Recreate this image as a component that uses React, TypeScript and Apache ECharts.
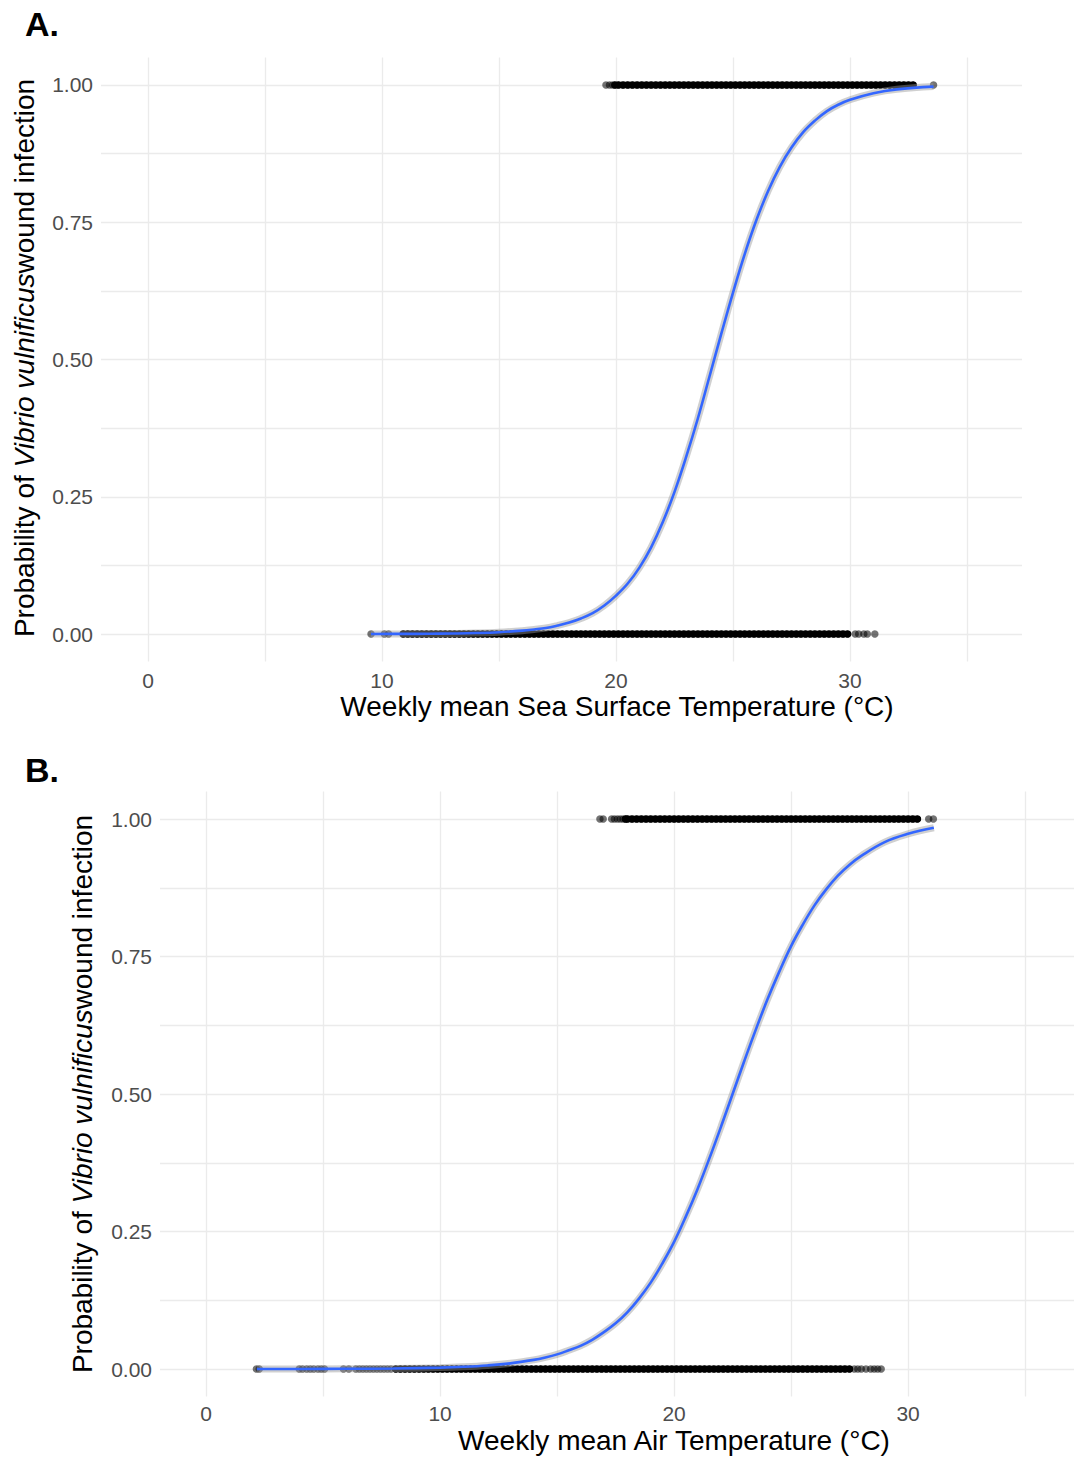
import React, { useEffect, useRef } from "react";
import * as echarts from "echarts";

// ---------- Panel A: sea surface temperature ----------
const sstSparse0 = [9.53, 10.1, 10.28, 30.22, 30.37, 30.59, 30.74, 31.06];
const sstDense0 = [10.9,11.1,11.3,11.5,11.7,11.9,12.1,12.3,12.5,12.7,12.9,13.1,13.3,13.5,13.7,13.9,14.1,14.3,14.5,14.7,14.9,15.1,15.3,15.5,15.7,15.9,16.1,16.3,16.5,16.7,16.9,17.1,17.3,17.5,17.7,17.9,18.1,18.3,18.5,18.7,18.9,19.1,19.3,19.5,19.7,19.9,20.1,20.3,20.5,20.7,20.9,21.1,21.3,21.5,21.7,21.9,22.1,22.3,22.5,22.7,22.9,23.1,23.3,23.5,23.7,23.9,24.1,24.3,24.5,24.7,24.9,25.1,25.3,25.5,25.7,25.9,26.1,26.3,26.5,26.7,26.9,27.1,27.3,27.5,27.7,27.9,28.1,28.3,28.5,28.7,28.9,29.1,29.3,29.5,29.7,29.9];
const sstSparse1 = [19.57, 19.72, 19.85, 33.57];
const sstDense1 = [19.95,20.1,20.3,20.5,20.7,20.9,21.1,21.3,21.5,21.7,21.9,22.1,22.3,22.5,22.7,22.9,23.1,23.3,23.5,23.7,23.9,24.1,24.3,24.5,24.7,24.9,25.1,25.3,25.5,25.7,25.9,26.1,26.3,26.5,26.7,26.9,27.1,27.3,27.5,27.7,27.9,28.1,28.3,28.5,28.7,28.9,29.1,29.3,29.5,29.7,29.9,30.1,30.3,30.5,30.7,30.9,31.1,31.3,31.5,31.7,31.9,32.1,32.3,32.5,32.7];
const sstCurveX = [9.53, 11, 12, 13, 14, 15, 16, 16.5, 17, 17.5, 18, 18.5, 19, 19.5, 20, 20.5, 21, 21.5, 22, 22.5, 23, 23.5, 24, 24.5, 25, 25.5, 26, 26.5, 27, 27.5, 28, 28.5, 29, 29.5, 30, 31, 32, 33.57];
const sstCurveP = [0.0001, 0.0003, 0.0005, 0.001, 0.0018, 0.0033, 0.0062, 0.0084, 0.011, 0.0155, 0.021, 0.0284, 0.038, 0.052, 0.07, 0.092, 0.121, 0.158, 0.204, 0.259, 0.323, 0.393, 0.47, 0.547, 0.622, 0.692, 0.754, 0.807, 0.851, 0.886, 0.914, 0.935, 0.952, 0.964, 0.973, 0.985, 0.992, 0.997];

// ---------- Panel B: air temperature ----------
const airSparse0 = [2.15, 2.27, 3.98, 4.12, 4.3, 4.45, 4.6, 4.78, 4.92, 5.06, 5.87, 6.1, 6.4, 6.55, 6.7, 6.85, 7.0, 7.15, 7.3, 7.45, 7.6, 7.75, 7.9, 27.7, 27.85, 28.0, 28.2, 28.4, 28.55, 28.7, 28.85];
const airDense0 = [8.1,8.3,8.5,8.7,8.9,9.1,9.3,9.5,9.7,9.9,10.1,10.3,10.5,10.7,10.9,11.1,11.3,11.5,11.7,11.9,12.1,12.3,12.5,12.7,12.9,13.1,13.3,13.5,13.7,13.9,14.1,14.3,14.5,14.7,14.9,15.1,15.3,15.5,15.7,15.9,16.1,16.3,16.5,16.7,16.9,17.1,17.3,17.5,17.7,17.9,18.1,18.3,18.5,18.7,18.9,19.1,19.3,19.5,19.7,19.9,20.1,20.3,20.5,20.7,20.9,21.1,21.3,21.5,21.7,21.9,22.1,22.3,22.5,22.7,22.9,23.1,23.3,23.5,23.7,23.9,24.1,24.3,24.5,24.7,24.9,25.1,25.3,25.5,25.7,25.9,26.1,26.3,26.5,26.7,26.9,27.1,27.3,27.5];
const airSparse1 = [16.83, 16.97, 17.33, 17.45, 17.58, 17.7, 17.82, 30.88, 31.08];
const airDense1 = [17.92,18.0,18.2,18.4,18.6,18.8,19.0,19.2,19.4,19.6,19.8,20.0,20.2,20.4,20.6,20.8,21.0,21.2,21.4,21.6,21.8,22.0,22.2,22.4,22.6,22.8,23.0,23.2,23.4,23.6,23.8,24.0,24.2,24.4,24.6,24.8,25.0,25.2,25.4,25.6,25.8,26.0,26.2,26.4,26.6,26.8,27.0,27.2,27.4,27.6,27.8,28.0,28.2,28.4,28.6,28.8,29.0,29.2,29.4,29.6,29.8,30.0,30.2,30.4];
const airCurveX = [2.17, 4, 6, 8, 10, 11, 12, 13, 14, 14.5, 15, 15.5, 16, 16.5, 17, 17.5, 18, 18.5, 19, 19.5, 20, 20.5, 21, 21.5, 22, 22.5, 23, 23.5, 24, 24.5, 25, 25.5, 26, 26.5, 27, 27.5, 28, 29, 30, 31.1];
const airCurveP = [0.0001, 0.0001, 0.0004, 0.0009, 0.0025, 0.004, 0.0064, 0.0103, 0.0166, 0.021, 0.0266, 0.034, 0.042, 0.053, 0.067, 0.083, 0.103, 0.128, 0.157, 0.192, 0.231, 0.277, 0.327, 0.382, 0.44, 0.5, 0.56, 0.618, 0.673, 0.723, 0.769, 0.808, 0.843, 0.872, 0.897, 0.917, 0.933, 0.958, 0.973, 0.984];

// ---------- Axis ticks / labels ----------
const xGridValues = [0, 5, 10, 15, 20, 25, 30, 35];
const xLabelValues = [0, 10, 20, 30];
const yGridValues = [0, 0.125, 0.25, 0.375, 0.5, 0.625, 0.75, 0.875, 1];
const yLabelValues = [0, 0.25, 0.5, 0.75, 1];

const FONT = "'Liberation Sans', Arial, Helvetica, sans-serif";
const GRID_COLOR = "#EBEBEB";
const LABEL_COLOR = "#4D4D4D";

function xAxisCfg(gridIndex: number, min: number, max: number, margin: number) {
  return {
    type: "value",
    gridIndex,
    min,
    max,
    axisLine: { show: false },
    axisTick: { show: false, customValues: xGridValues },
    axisLabel: {
      customValues: xLabelValues,
      color: LABEL_COLOR,
      fontSize: 21,
      fontFamily: FONT,
      margin,
      formatter: (v: number) => String(v),
    },
    splitLine: { show: true, lineStyle: { color: GRID_COLOR, width: 1.3 } },
  };
}

function yAxisCfg(gridIndex: number, margin: number) {
  return {
    type: "value",
    gridIndex,
    min: -0.05,
    max: 1.05,
    axisLine: { show: false },
    axisTick: { show: false, customValues: yGridValues },
    axisLabel: {
      customValues: yLabelValues,
      color: LABEL_COLOR,
      fontSize: 21,
      fontFamily: FONT,
      margin,
      formatter: (v: number) => v.toFixed(2),
    },
    splitLine: { show: true, lineStyle: { color: GRID_COLOR, width: 1.3 } },
  };
}

function scatter(idx: number, xs: number[], y: number, dense: boolean) {
  return {
    type: "scatter",
    xAxisIndex: idx,
    yAxisIndex: idx,
    symbolSize: 7.5,
    silent: true,
    z: 2,
    itemStyle: { color: dense ? "#000000" : "rgba(0,0,0,0.55)", opacity: 1 },
    data: xs.map((x) => [x, y]),
  };
}

// overlapping observations in dense runs merge into a solid band
function denseBand(idx: number, xs: number[], y: number) {
  return {
    type: "line",
    xAxisIndex: idx,
    yAxisIndex: idx,
    data: xs.map((x) => [x, y]),
    showSymbol: false,
    silent: true,
    z: 2,
    lineStyle: { color: "#000000", width: 6.5, cap: "round" },
  };
}

function curve(idx: number, xs: number[], ps: number[]) {
  const data = xs.map((x, i) => [x, ps[i]]);
  return [
    {
      type: "line",
      xAxisIndex: idx,
      yAxisIndex: idx,
      data,
      showSymbol: false,
      smooth: 0.4,
      z: 3,
      silent: true,
      lineStyle: { color: "rgba(150,150,150,0.45)", width: 7 },
    },
    {
      type: "line",
      xAxisIndex: idx,
      yAxisIndex: idx,
      data,
      showSymbol: false,
      smooth: 0.4,
      z: 4,
      silent: true,
      lineStyle: { color: "#3366FF", width: 2.6 },
    },
  ];
}

function yTitle(x: number, y: number) {
  return {
    type: "text",
    x,
    y,
    rotation: Math.PI / 2,
    style: {
      text: "{n|Probability of }{i|Vibrio vulnificus}{n|wound infection}",
      align: "center",
      verticalAlign: "middle",
      fontFamily: FONT,
      fontSize: 28,
      fill: "#000",
      rich: {
        n: { fontSize: 28, fontFamily: FONT, fill: "#000" },
        i: { fontSize: 28, fontFamily: FONT, fontStyle: "italic", fill: "#000" },
      },
    },
  };
}

function plainText(text: string, x: number, y: number, size: number, bold: boolean, align: string) {
  return {
    type: "text",
    x,
    y,
    style: {
      text,
      align,
      verticalAlign: "middle",
      fontFamily: FONT,
      fontSize: size,
      fontWeight: bold ? "bold" : "normal",
      fill: "#000",
    },
  };
}

export default function App() {
  const ref = useRef<HTMLDivElement>(null);

  useEffect(() => {
    document.body.style.margin = "0";
    if (!ref.current) return;
    const chart = echarts.init(ref.current, null, { renderer: "svg" });
    chart.setOption({
      animation: false,
      backgroundColor: "#ffffff",
      grid: [
        { left: 101, top: 57.5, width: 921, height: 604 },
        { left: 160, top: 791.5, width: 914, height: 605 },
      ],
      xAxis: [xAxisCfg(0, -2.01, 37.35, 8), xAxisCfg(1, -1.97, 37.09, 6)],
      yAxis: [yAxisCfg(0, 8), yAxisCfg(1, 8)],
      series: [
        scatter(0, sstSparse0, 0, false),
        denseBand(0, sstDense0, 0),
        scatter(0, sstDense0, 0, true),
        scatter(0, sstSparse1, 1, false),
        denseBand(0, sstDense1, 1),
        scatter(0, sstDense1, 1, true),
        ...curve(0, sstCurveX, sstCurveP),
        scatter(1, airSparse0, 0, false),
        denseBand(1, airDense0, 0),
        scatter(1, airDense0, 0, true),
        scatter(1, airSparse1, 1, false),
        denseBand(1, airDense1, 1),
        scatter(1, airDense1, 1, true),
        ...curve(1, airCurveX, airCurveP),
      ],
      graphic: [
        plainText("A.", 25, 24, 34, true, "left"),
        plainText("B.", 25, 770, 34, true, "left"),
        plainText("Weekly mean Sea Surface Temperature (°C)", 617, 706, 28, false, "center"),
        plainText("Weekly mean Air Temperature (°C)", 674, 1440, 28, false, "center"),
        yTitle(24, 358),
        yTitle(82, 1094),
      ],
    });
    return () => chart.dispose();
  }, []);

  return <div ref={ref} style={{ width: 1074, height: 1459 }} />;
}
